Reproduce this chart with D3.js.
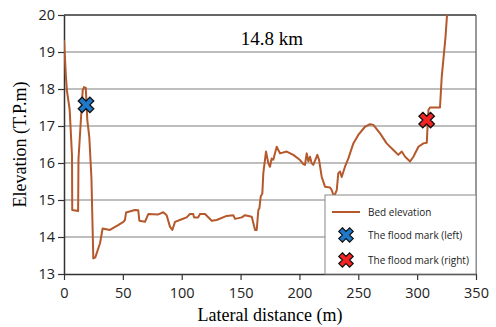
<!DOCTYPE html>
<html>
<head>
<meta charset="utf-8">
<script src="https://cdn.jsdelivr.net/npm/d3@7"></script>
<style>
  body { margin: 0; background: #fff; }
  svg { display: block; }
</style>
</head>
<body>
<div id="chart"></div>
<script>
// chart size
var width = 496;
var height = 327;
var margin = {top: 15, right: 20, bottom: 53, left: 64};

// bed profile (lateral distance in m, elevation in T.P.m)
var distance = [0, 1.7, 2.5, 4.8, 6.8, 7.0, 12.0, 12.3, 15.9, 17.0, 18.5, 19.8, 21.5, 23.3, 24.9, 26.6, 30.6, 32.8, 39, 46,
  50.4, 51.8, 52.7, 60.3, 63.1, 64, 68.8, 71.6, 80.1, 84.4, 87.2, 90, 92, 94.3, 100, 104.2, 107, 109.8, 110.4, 114,
  115.5, 119.8, 125.5, 129.7, 138.2, 143.8, 145.3, 151, 153.8, 159.5, 162.3, 163.7, 165.1, 166, 167.1, 168.5, 169.3, 171.6, 173.6, 175,
  176.4, 177.8, 180.7, 183.5, 189.2, 194.8, 200.5, 203.3, 204.7, 206.2, 207.6, 209, 210.4, 211.8, 215.2, 216.7, 218.9, 221.7, 226, 227.4,
  229.4, 231.7, 233, 234.5, 235.9, 238.7, 241.5, 245.8, 250, 255.7, 260, 262.8, 268.5, 274.1, 279.8, 284, 286.9, 289.8, 294, 296.8,
  301.1, 305.3, 308.2, 308.7, 309.6, 310.9, 319.4, 320.9, 324.1, 325.6];
var elevation = [19.32, 18.3, 17.95, 17.45, 16.2, 14.73, 14.7, 16.1, 17.97, 18.05, 18.03, 17.16, 16.7, 15.6, 13.42, 13.45, 13.83, 14.23, 14.19, 14.32,
  14.41, 14.46, 14.66, 14.73, 14.72, 14.44, 14.41, 14.62, 14.61, 14.67, 14.59, 14.28, 14.19, 14.41, 14.48, 14.53, 14.62, 14.62, 14.53, 14.53,
  14.62, 14.62, 14.44, 14.46, 14.57, 14.59, 14.49, 14.53, 14.59, 14.55, 14.19, 14.19, 14.73, 14.78, 15.09, 15.18, 15.72, 16.31, 15.99, 15.9,
  16.12, 16.09, 16.44, 16.26, 16.31, 16.22, 16.08, 15.97, 15.95, 16.26, 16.04, 16.17, 15.99, 15.95, 16.22, 16.08, 15.63, 15.36, 15.34, 15.27,
  15.09, 15.27, 15.72, 15.77, 15.62, 15.9, 16.12, 16.53, 16.76, 16.98, 17.05, 17.03, 16.8, 16.53, 16.35, 16.22, 16.31, 16.17, 16.04, 16.17,
  16.44, 16.53, 16.55, 16.89, 17.43, 17.5, 17.5, 18.33, 19.41, 20.1];

// flood marks
var markNames = ["The flood mark (left)", "The flood mark (right)"];
var markDistance = [18.7, 308.1];
var markElevation = [17.57, 17.16];
var markColors = ["#1f78c8", "#f42424"];

var xTicks = [0, 50, 100, 150, 200, 250, 300, 350];
var yTicks = [13, 14, 15, 16, 17, 18, 19, 20];

var lineColor = "#b5582b";

var svg = d3.select("#chart")
  .append("svg")
  .attr("width", width)
  .attr("height", height);

var x = d3.scaleLinear().domain([0, 350]).range([margin.left, width - margin.right]);
var y = d3.scaleLinear().domain([13, 20]).range([height - margin.bottom, margin.top]);

// gridlines
svg.append("g")
  .selectAll("line")
  .data(yTicks.slice(1, -1))
  .enter().append("line")
  .attr("x1", x(0)).attr("x2", x(350))
  .attr("y1", function(d) { return y(d); })
  .attr("y2", function(d) { return y(d); })
  .style("stroke", "#a8a8a8")
  .style("stroke-width", 1.5);

// frame top / right
svg.append("line")
  .attr("x1", x(0)).attr("x2", x(350)).attr("y1", y(20)).attr("y2", y(20))
  .style("stroke", "#333").style("stroke-width", 1.5);
svg.append("line")
  .attr("x1", x(350)).attr("x2", x(350)).attr("y1", y(20)).attr("y2", y(13))
  .style("stroke", "#555").style("stroke-width", 1.2);

// axes
var xAxis = svg.append("g")
  .attr("transform", "translate(0," + y(13) + ")")
  .call(d3.axisBottom(x).tickValues(xTicks).tickFormat(d3.format("d")).tickSize(6).tickSizeOuter(0));
var yAxis = svg.append("g")
  .attr("transform", "translate(" + x(0) + ",0)")
  .call(d3.axisLeft(y).tickValues(yTicks).tickFormat(d3.format("d")).tickSize(6).tickSizeOuter(0));

[xAxis, yAxis].forEach(function(a) {
  a.select(".domain").style("stroke", "#333").style("stroke-width", 1.5);
  a.selectAll(".tick line").style("stroke", "#333").style("stroke-width", 1.2);
  a.selectAll("text")
    .style("font-family", "'Open Sans', sans-serif")
    .style("font-size", "14.5px")
    .style("fill", "#222");
});
xAxis.selectAll("text").attr("dy", "1.05em");
yAxis.selectAll("text").attr("x", -9);

// clip for bed line
svg.append("clipPath").attr("id", "plotclip")
  .append("rect")
  .attr("x", x(0)).attr("y", y(20))
  .attr("width", x(350) - x(0)).attr("height", y(13) - y(20));

var line = d3.line()
  .x(function(d, i) { return x(distance[i]); })
  .y(function(d, i) { return y(elevation[i]); });

svg.append("path")
  .datum(distance)
  .attr("d", line)
  .attr("clip-path", "url(#plotclip)")
  .style("fill", "none")
  .style("stroke", lineColor)
  .style("stroke-width", 2)
  .style("stroke-linejoin", "round");

// X shaped marker
var cross = d3.symbol().type(d3.symbolCross).size(150);

svg.selectAll(".mark")
  .data(markDistance)
  .enter().append("path")
  .attr("class", "mark")
  .attr("d", cross)
  .attr("transform", function(d, i) { return "translate(" + x(d) + "," + y(markElevation[i]) + ") rotate(45)"; })
  .style("fill", function(d, i) { return markColors[i]; })
  .style("stroke", "#111")
  .style("stroke-width", 1.3);

// title
svg.append("text")
  .attr("x", 272)
  .attr("y", 45)
  .attr("text-anchor", "middle")
  .style("font-family", "'Liberation Serif', 'Times New Roman', serif")
  .style("font-size", "19px")
  .text("14.8 km");

// axis titles
svg.append("text")
  .attr("x", 270)
  .attr("y", 321)
  .attr("text-anchor", "middle")
  .style("font-family", "'Liberation Serif', 'Times New Roman', serif")
  .style("font-size", "18px")
  .text("Lateral distance (m)");

svg.append("text")
  .attr("transform", "translate(26," + ((y(20) + y(13)) / 2) + ") rotate(-90)")
  .attr("text-anchor", "middle")
  .style("font-family", "'Liberation Serif', 'Times New Roman', serif")
  .style("font-size", "18px")
  .text("Elevation (T.P.m)");

// legend
var legend = svg.append("g");
legend.append("rect")
  .attr("x", 325).attr("y", 195)
  .attr("width", x(350) - 325).attr("height", y(13) - 195)
  .style("fill", "#fff")
  .style("stroke", "#888")
  .style("stroke-width", 1);

legend.append("line")
  .attr("x1", 332).attr("x2", 360).attr("y1", 212).attr("y2", 212)
  .style("stroke", lineColor).style("stroke-width", 2);
legend.append("text")
  .attr("x", 368).attr("y", 212).attr("dy", "0.35em")
  .style("font-family", "'Open Sans', sans-serif")
  .style("font-size", "10px")
  .style("fill", "#222")
  .text("Bed elevation");

var legendSymbol = d3.symbol().type(d3.symbolCross).size(130);
markNames.forEach(function(name, i) {
  var ly = 235 + i * 25;
  legend.append("path")
    .attr("d", legendSymbol)
    .attr("transform", "translate(346," + ly + ") rotate(45)")
    .style("fill", markColors[i])
    .style("stroke", "#111")
    .style("stroke-width", 1.2);
  legend.append("text")
    .attr("x", 368).attr("y", ly).attr("dy", "0.35em")
    .style("font-family", "'Open Sans', sans-serif")
    .style("font-size", "10px")
    .style("fill", "#222")
    .text(name);
});
</script>
</body>
</html>
